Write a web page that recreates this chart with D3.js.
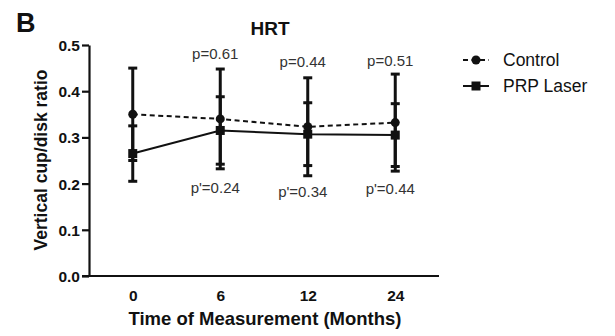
<!DOCTYPE html>
<html><head><meta charset="utf-8">
<script src="https://cdn.jsdelivr.net/npm/d3@7"></script>
<style>body{margin:0;background:#fff}svg{display:block;font-family:"Liberation Sans",Arial,sans-serif}</style>
</head><body><svg id="c" width="615" height="336"></svg>
<script>
const categories = ["0","6","12","24"];
const controlMean = [0.350, 0.340, 0.323, 0.332];
const controlSD   = [0.100, 0.108, 0.106, 0.105];
const prpMean     = [0.265, 0.315, 0.307, 0.305];
const prpSD       = [0.060, 0.073, 0.068, 0.068];
const pTop    = ["", "p=0.61", "p=0.44", "p=0.51"];
const pBottom = ["", "p'=0.24", "p'=0.34", "p'=0.44"];
const yTicks = [0, 0.1, 0.2, 0.3, 0.4, 0.5];

const svg = d3.select("#c");
const FONT = "Liberation Sans, Arial, sans-serif";
const x = d3.scalePoint().domain(categories).range([89, 439]).padding(0.5);
const y = d3.scaleLinear().domain([0, 0.5]).range([276, 45]);

// axes
const yAxis = svg.append("g").attr("transform","translate(89,0)")
  .call(d3.axisLeft(y).tickValues(yTicks).tickFormat(d3.format(".1f")).tickSize(7).tickSizeOuter(0));
yAxis.select(".domain").attr("stroke","#111").attr("stroke-width",2.2);
yAxis.selectAll(".tick line").attr("stroke","#111").attr("stroke-width",2.2);
yAxis.selectAll(".tick text").attr("font-size",15.5).attr("font-weight","bold").attr("fill","#111")
  .attr("font-family",FONT).attr("x",-9).attr("dy","0.36em");

const xAxis = svg.append("g").attr("transform","translate(0,276)")
  .call(d3.axisBottom(x).tickSize(0).tickSizeOuter(0));
xAxis.select(".domain").attr("d","M82,0H439").attr("stroke","#111").attr("stroke-width",2.2);
xAxis.selectAll(".tick text").attr("font-size",15.5).attr("font-weight","bold").attr("fill","#111")
  .attr("font-family",FONT).attr("y",25).attr("dy",0);

// lines
const idx = d3.range(categories.length);
const lineC = d3.line().x(i=>x(categories[i])).y(i=>y(controlMean[i]));
const lineP = d3.line().x(i=>x(categories[i])).y(i=>y(prpMean[i]));
svg.append("path").attr("d",lineC(idx)).attr("fill","none").attr("stroke","#111")
  .attr("stroke-width",2).attr("stroke-dasharray","5,3.5");
svg.append("path").attr("d",lineP(idx)).attr("fill","none").attr("stroke","#111").attr("stroke-width",2);

// error bars
function errBars(mean, sd){
  const g = svg.append("g").attr("stroke","#111").attr("stroke-width",3);
  idx.forEach(i=>{
    const cx = x(categories[i]);
    g.append("line").attr("x1",cx).attr("x2",cx).attr("y1",y(mean[i]+sd[i])).attr("y2",y(mean[i]-sd[i]));
    [mean[i]+sd[i], mean[i]-sd[i]].forEach(v=>{
      g.append("line").attr("x1",cx-4.5).attr("x2",cx+4.5).attr("y1",y(v)).attr("y2",y(v));
    });
  });
}
errBars(controlMean, controlSD);
errBars(prpMean, prpSD);

// markers
svg.append("g").selectAll("circle").data(idx).join("circle")
  .attr("cx",i=>x(categories[i])).attr("cy",i=>y(controlMean[i])).attr("r",4.5).attr("fill","#111");
svg.append("g").selectAll("rect").data(idx).join("rect")
  .attr("x",i=>x(categories[i])-4.5).attr("y",i=>y(prpMean[i])-4.5).attr("width",9).attr("height",9).attr("fill","#111");

// p labels
const topOff = [0, 10, 11, 8];
const botOff = [0, 29, 31, 27];
idx.forEach(i=>{
  if(pTop[i]) svg.append("text").attr("x",x(categories[i])-5).attr("y",y(controlMean[i]+controlSD[i])-topOff[i])
    .attr("text-anchor","middle").attr("font-size",15).attr("fill","#333").attr("font-family",FONT).text(pTop[i]);
  if(pBottom[i]) svg.append("text").attr("x",x(categories[i])-5).attr("y",y(prpMean[i]-prpSD[i])+botOff[i])
    .attr("text-anchor","middle").attr("font-size",15).attr("fill","#333").attr("font-family",FONT).text(pBottom[i]);
});

// titles
svg.append("text").attr("x",16).attr("y",32).attr("font-size",27).attr("font-weight","bold").attr("fill","#111").text("B");
svg.append("text").attr("x",270).attr("y",35).attr("text-anchor","middle").attr("font-size",19).attr("font-weight","bold").attr("fill","#111").text("HRT");
svg.append("text").attr("transform","translate(47,160) rotate(-90)").attr("text-anchor","middle")
  .attr("font-size",17.5).attr("font-weight","bold").attr("fill","#111").text("Vertical cup/disk ratio");
svg.append("text").attr("x",265).attr("y",325).attr("text-anchor","middle")
  .attr("font-size",18.5).attr("font-weight","bold").attr("fill","#111").text("Time of Measurement (Months)");

// legend
const leg = [{name:"Control", dash:"5,3.5", shape:"circle"},{name:"PRP Laser", dash:null, shape:"square"}];
leg.forEach((d,k)=>{
  const ly = 60 + k*26;
  svg.append("line").attr("x1",463).attr("x2",489).attr("y1",ly).attr("y2",ly).attr("stroke","#111")
    .attr("stroke-width",2).attr("stroke-dasharray",d.dash);
  if(d.shape==="circle") svg.append("circle").attr("cx",476).attr("cy",ly).attr("r",4.5).attr("fill","#111");
  else svg.append("rect").attr("x",471.5).attr("y",ly-4.5).attr("width",9).attr("height",9).attr("fill","#111");
  svg.append("text").attr("x",503).attr("y",ly+6).attr("font-size",17.5).attr("fill","#111").text(d.name);
});
</script></body></html>
